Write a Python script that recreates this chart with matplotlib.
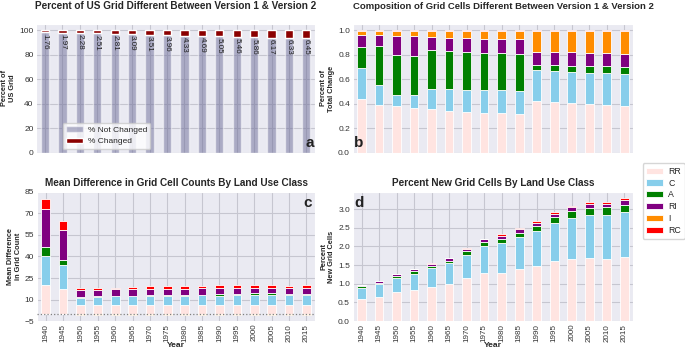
import numpy as np
import matplotlib
matplotlib.use('Agg')
import matplotlib.pyplot as plt
import seaborn as sns

# ----- data -----
years = [1940, 1945, 1950, 1955, 1960, 1965, 1970, 1975,
         1980, 1985, 1990, 1995, 2000, 2005, 2010, 2015]

pct_changed = [1.76, 1.97, 2.28, 2.51, 2.81, 3.09, 3.51, 3.96,
               4.33, 4.69, 5.05, 5.46, 5.86, 6.17, 6.33, 6.45]
pct_not_changed = [100 - v for v in pct_changed]

classes = ['RR', 'C', 'A', 'RI', 'I', 'RC']
class_colors = ['mistyrose', 'skyblue', 'green', 'purple', 'darkorange', 'red']

# b: composition of changed cells (fraction)
comp_rr = [.44, .39, .38, .37, .36, .345, .33, .325, .325, .315, .425, .415, .41, .40, .39, .385]
comp_c = [.25, .16, .09, .10, .165, .175, .185, .185, .19, .19, .25, .255, .25, .255, .26, .255]
comp_a = [.17, .325, .33, .32, .315, .31, .305, .305, .30, .305, .04, .045, .05, .05, .055, .06]
comp_ri = [.105, .085, .155, .16, .105, .11, .115, .115, .11, .115, .105, .105, .11, .11, .11, .11]
comp_i = [.025, .03, .035, .04, .045, .05, .055, .06, .065, .065, .17, .17, .17, .175, .175, .18]
comp_rc = [.01] * 16

# c: mean difference in grid cell counts
diff_rr = [20.3, 17.5, 5.9, 6, 6, 6, 6, 6, 6, 6, 6, 6, 6.5, 6, 6, 6.5]
diff_c = [20, 16.8, 5.4, 6, 6.2, 6.3, 6.6, 6.6, 6.6, 7, 6.5, 7, 7, 7.5, 7, 6.5]
diff_a = [6, 3, 0.3, 0.3, 0.3, 0.3, 0.4, 0.4, 0.4, 0.5, 1.2, 1, 0.8, 0.8, 1, 0.7]
diff_ri = [26.5, 21, 5, 4.5, 4.5, 4.5, 4.5, 4.5, 4.4, 4.2, 4, 4, 4, 4, 3.8, 4]
diff_i = [0, 0, -1.0, -1.0, -1.0, -1.0, -1.0, -1.0, -1.0, -1.0, -1.1, -1.1, -1.1, -1.1, -1.1, -1.1]
diff_rc = [7.5, 6.2, 1.2, 1.5, 1.3, 1.5, 2, 2, 2, 2, 2.3, 2.2, 2, 2, 1.8, 2.2]

# d: percent new grid cells
new_rr = [.58, .65, .77, .83, .91, .98, 1.15, 1.28, 1.29, 1.40, 1.47, 1.60, 1.67, 1.68, 1.67, 1.71]
new_c = [.30, .33, .38, .44, .51, .57, .63, .74, .81, .86, .95, 1.03, 1.09, 1.16, 1.17, 1.22]
new_a = [.07, .05, .06, .06, .06, .07, .09, .09, .10, .11, .12, .15, .18, .19, .21, .19]
new_ri = [.025, .04, .04, .06, .06, .06, .07, .08, .09, .09, .09, .10, .11, .11, .09, .11]
new_i = [0] * 16
new_rc = [0, 0, 0, 0, .01, .01, .02, .02, .03, .04, .04, .04, .04, .04, .04, .07]

sns.set_style('darkgrid', {'axes.facecolor': '#EAEAF2', 'grid.color': '#c6c6d0'})
plt.rcParams['font.family'] = ['Liberation Sans', 'DejaVu Sans']
plt.rcParams['font.size'] = 6
plt.rcParams['xtick.labelsize'] = 5.8
plt.rcParams['ytick.labelsize'] = 6
plt.rcParams['xtick.color'] = '#333333'
plt.rcParams['ytick.color'] = '#333333'

x = np.arange(len(years))


def stacked(ax, series, width=0.5):
    pos = np.zeros(len(x))
    neg = np.zeros(len(x))
    handles = []
    for vals, col, lab in zip(series, class_colors, classes):
        vals = np.array(vals, dtype=float)
        bottom = np.where(vals >= 0, pos, neg)
        h = ax.bar(x, vals, width, bottom=bottom, color=col, label=lab,
                   edgecolor='white', linewidth=0.6, zorder=2)
        pos = pos + np.clip(vals, 0, None)
        neg = neg + np.clip(vals, None, 0)
        handles.append(h)
    return handles


fig = plt.figure(figsize=(6.85, 3.54), dpi=100)
ax_a = fig.add_axes([0.053, 0.568, 0.407, 0.364])
ax_b = fig.add_axes([0.515, 0.568, 0.409, 0.364])
ax_c = fig.add_axes([0.054, 0.093, 0.406, 0.365])
ax_d = fig.add_axes([0.515, 0.093, 0.409, 0.365])

for ax in (ax_a, ax_b, ax_c, ax_d):
    ax.set_xlim(-0.5, len(x) - 0.5)
    ax.set_xticks(x)
    ax.grid(True, linewidth=0.8)
    ax.tick_params(length=0, pad=2)

title_kw = dict(fontsize=7.2, fontweight='bold')
lab_kw = dict(fontsize=5.3, fontweight='bold')

# ---- a ----
ax_a.bar(x, pct_not_changed, 0.47, color='#6e6e9a', alpha=0.5, label='% Not Changed', zorder=2)
ax_a.bar(x, pct_changed, 0.47, bottom=pct_not_changed, color='darkred', label='% Changed', zorder=2)
for xi, base, v in zip(x, pct_not_changed, pct_changed):
    ax_a.text(xi, base - 1.0, '%.2f' % v, rotation=270, ha='center', va='top',
              fontsize=5.8, color='#222222', zorder=3)
ax_a.set_ylim(0, 105)
ax_a.set_yticks([0, 20, 40, 60, 80, 100])
ax_a.set_xticklabels([])
ax_a.set_title('Percent of US Grid Different Between Version 1 & Version 2', pad=11, **title_kw)
ax_a.set_ylabel('Percent of\nUS Grid', labelpad=2, **lab_kw)
ax_a.legend(loc='lower left', bbox_to_anchor=(0.08, 0.0), fontsize=6, frameon=True,
            facecolor='white', edgecolor='#cccccc', handlelength=2.0, borderpad=0.4,
            labelspacing=0.4, handletextpad=0.6)
ax_a.text(0.995, 0.02, 'a', transform=ax_a.transAxes, ha='right', va='bottom',
          fontsize=11, fontweight='bold', color='#222222')

# ---- b ----
stacked(ax_b, [comp_rr, comp_c, comp_a, comp_ri, comp_i, comp_rc])
ax_b.set_ylim(0, 1.05)
ax_b.set_yticks([0, 0.2, 0.4, 0.6, 0.8, 1.0])
ax_b.set_xticklabels([])
ax_b.set_title('Composition of Grid Cells Different Between Version 1 & Version 2',
               pad=11, loc='left', fontsize=6.8, fontweight='bold')
ax_b.set_ylabel('Percent of\nTotal Change', labelpad=2, **lab_kw)
ax_b.text(0.005, 0.02, 'b', transform=ax_b.transAxes, ha='left', va='bottom',
          fontsize=11, fontweight='bold', color='#222222')

# ---- c ----
stacked(ax_c, [diff_rr, diff_c, diff_a, diff_ri, diff_i, diff_rc])
ax_c.axhline(0, color='gray', linestyle=':', linewidth=0.9, zorder=3)
ax_c.set_ylim(-5, 85)
ax_c.set_yticks([-5, 10, 25, 40, 55, 70, 85])
ax_c.set_xticklabels(years, rotation=90)
ax_c.set_title('Mean Difference in Grid Cell Counts By Land Use Class', pad=4, **title_kw)
ax_c.set_ylabel('Mean Difference\nin Grid Count', labelpad=2, **lab_kw)
ax_c.set_xlabel('Year', labelpad=0, fontsize=6, fontweight='bold')
ax_c.text(0.99, 0.97, 'c', transform=ax_c.transAxes, ha='right', va='top',
          fontsize=11, fontweight='bold', color='#222222')

# ---- d ----
hd = stacked(ax_d, [new_rr, new_c, new_a, new_ri, new_i, new_rc])
ax_d.set_ylim(0, 3.46)
ax_d.set_yticks([0, 0.5, 1.0, 1.5, 2.0, 2.5, 3.0])
ax_d.set_xticklabels(years, rotation=90)
ax_d.set_title('Percent New Grid Cells By Land Use Class', pad=4, **title_kw)
ax_d.set_ylabel('Percent\nNew Grid Cells', labelpad=2, **lab_kw)
ax_d.set_xlabel('Year', labelpad=0, fontsize=6, fontweight='bold')
ax_d.text(0.005, 0.97, 'd', transform=ax_d.transAxes, ha='left', va='top',
          fontsize=11, fontweight='bold', color='#222222')

fig.legend(handles=hd, labels=classes, loc='upper left', bbox_to_anchor=(0.938, 0.54),
           fontsize=6.3, frameon=True, facecolor='white', edgecolor='#cccccc',
           handlelength=1.9, labelspacing=0.32, borderpad=0.45, handletextpad=0.6,
           borderaxespad=0)

fig.savefig('out.png', dpi=100)
